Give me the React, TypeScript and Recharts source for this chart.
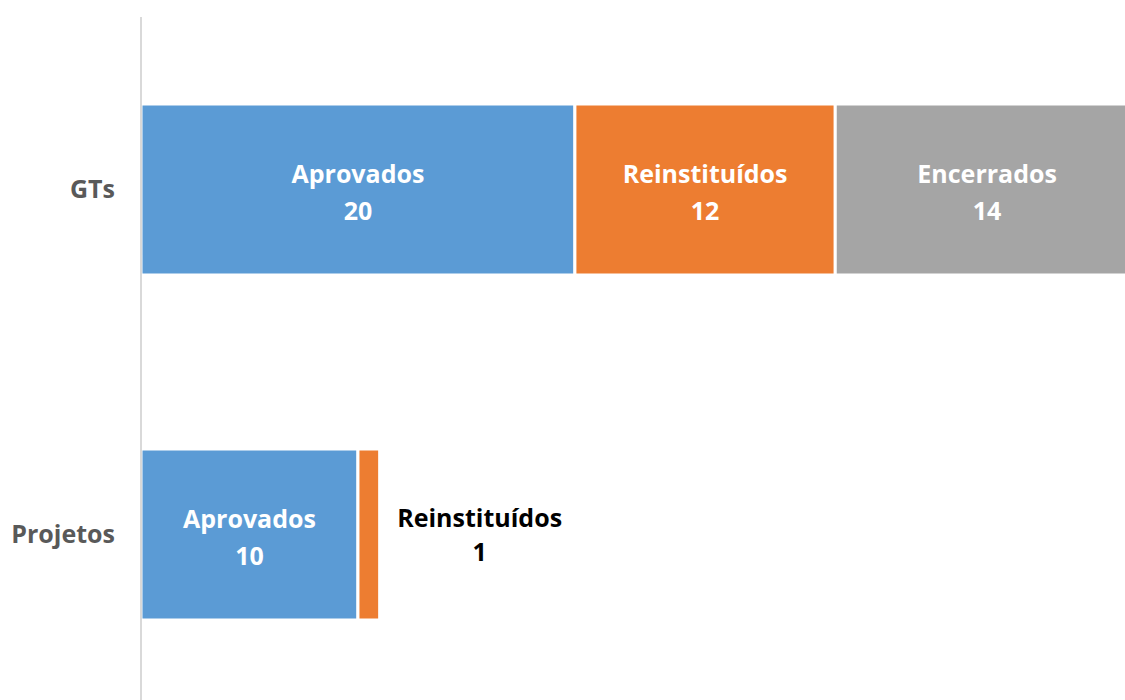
// Horizontal stacked bars: GTs vs Projetos by status, labels inside the segments.
import { BarChart, Bar, XAxis, YAxis } from "recharts";

const categories = ["GTs", "Projetos"];
const aprovados = [20, 10];
const reinstituidos = [12, 1];
const encerrados = [14, 0];

const data = categories.map((name, i) => ({
  name,
  Aprovados: aprovados[i],
  Reinstituídos: reinstituidos[i],
  Encerrados: encerrados[i],
}));

const FONT = "'Open Sans', 'Noto Sans', sans-serif";

function SegmentLabel(props: any) {
  const { x, y, width, height, index, name, values } = props;
  const value = values[index];
  if (!value) return null;
  const cy = y + height / 2;
  const outside = width < 60;
  const cx = outside ? x + width + 100 : x + width / 2;
  const fill = outside ? "#000000" : "#ffffff";
  return (
    <text
      textAnchor="middle"
      fontFamily={FONT}
      fontWeight={700}
      fontSize={25}
      fill={fill}
    >
      <tspan x={cx} y={outside ? cy - 8 : cy - 7}>{name}</tspan>
      <tspan x={cx} y={outside ? cy + 26 : cy + 30}>{value}</tspan>
    </text>
  );
}

export default function App() {
  const series = [
    { key: "Aprovados", color: "#5B9BD5", values: aprovados },
    { key: "Reinstituídos", color: "#ED7D31", values: reinstituidos },
    { key: "Encerrados", color: "#A5A5A5", values: encerrados },
  ];
  return (
    <div
      style={{
        position: "absolute",
        left: 0,
        top: 0,
        width: 1125,
        height: 700,
        overflow: "hidden",
        background: "#fff",
      }}
    >
      <BarChart
        width={1150}
        height={710}
        data={data}
        layout="vertical"
        margin={{ top: 17, right: 11, bottom: 3, left: 0 }}
      >
        <XAxis type="number" domain={[0, 46]} hide />
        <YAxis
          type="category"
          dataKey="name"
          width={141}
          axisLine={{ stroke: "#d9d9d9", strokeWidth: 2 }}
          tickLine={false}
          tickMargin={20}
          tick={{ fill: "#595959", fontSize: 25, fontWeight: 700, fontFamily: FONT }}
        />
        {series.map((s) => (
          <Bar
            key={s.key}
            dataKey={s.key}
            stackId="a"
            fill={s.color}
            stroke="#ffffff"
            strokeWidth={3}
            barSize={171}
            isAnimationActive={false}
            label={(p: any) => <SegmentLabel {...p} name={s.key} values={s.values} />}
          />
        ))}
      </BarChart>
    </div>
  );
}
